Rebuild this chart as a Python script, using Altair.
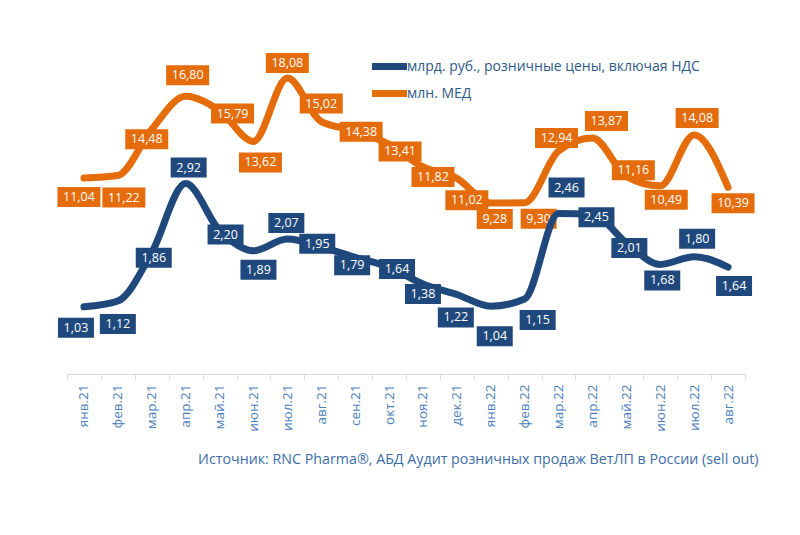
import altair as alt
import pandas as pd

# ---- data ----
months = ["янв.21", "фев.21", "мар.21", "апр.21", "май.21", "июн.21", "июл.21",
          "авг.21", "сен.21", "окт.21", "ноя.21", "дек.21", "янв.22", "фев.22",
          "мар.22", "апр.22", "май.22", "июн.22", "июл.22", "авг.22"]
rub_bn = [1.03, 1.12, 1.86, 2.92, 2.20, 1.89, 2.07, 1.95, 1.79, 1.64,
          1.38, 1.22, 1.04, 1.15, 2.46, 2.45, 2.01, 1.68, 1.80, 1.64]
med_mn = [11.04, 11.22, 14.48, 16.80, 15.79, 13.62, 18.08, 15.02, 14.38, 13.41,
          11.82, 11.02, 9.28, 9.30, 12.94, 13.87, 11.16, 10.49, 14.08, 10.39]
series_names = ["млрд. руб., розничные цены, включая НДС", "млн. МЕД"]
source_text = "Источник: RNC Pharma®, АБД Аудит розничных продаж ВетЛП в России (sell out)"

# ---- label placement nudges (px, relative to the data point) ----
rub_label_nudge = [(-8, 21), (0, 23), (2, 5), (3, -16), (6, 4), (5, 19), (-1, -16),
                   (-4, -3), (-3, 8), (8, 2), (0, 10), (-1, 23), (4, 30), (13, 21),
                   (8, -26), (4, 3), (3, 5), (2, 16), (3, -18), (6, 19)]
med_label_nudge = [(-5, 19), (6, 22), (-5, 10), (2, -21), (13, 3), (7, 21), (0, -15),
                   (0, -18), (6, 1), (11, 7), (10, 10), (10, 22), (4, 16), (14, 16),
                   (-2, -13), (14, -17), (7, -6), (6, 14), (3, -17), (5, 16)]

BLUE = "#1F497D"
ORANGE = "#E46C0A"
FONT = "Open Sans"
W, H = 678, 326
HALF_BAND = W / len(months) / 2


def series_layer(values, nudges, color, name, domain):
    px_per_unit = H / (domain[1] - domain[0])
    df = pd.DataFrame({
        "month": months,
        "v": values,
        "series": name,
        "label": [f"{v:.2f}".replace(".", ",") for v in values],
        "dx": [n[0] + HALF_BAND for n in nudges],
        "dy": [n[1] for n in nudges],
    })
    df["lv"] = df["v"] - df["dy"] / px_per_unit
    df["w"] = df["label"].str.len() * 7 + 8
    df["sz"] = df["w"] ** 2
    df["shp"] = df["w"].map(lambda w: f"M-1,{-20 / w:.4f}H1V{20 / w:.4f}H-1Z")

    x = alt.X("month:N", sort=months,
              scale=alt.Scale(type="band", paddingInner=0, paddingOuter=0),
              axis=alt.Axis(title=None, labelAngle=270, tickBand="extent",
                            labelColor="#4A7EBB", labelFont=FONT, labelFontSize=13.5,
                            domainColor="#D9D9D9", tickColor="#D9D9D9", tickSize=5,
                            labelPadding=5, domainWidth=1))
    yscale = alt.Scale(domain=domain, nice=False, zero=False)
    y = alt.Y("v:Q", scale=yscale, axis=None)
    ly = alt.Y("lv:Q", scale=yscale, axis=None)
    base = alt.Chart(df)
    line = base.mark_line(interpolate="monotone", strokeWidth=7, strokeCap="round").encode(
        x=x, y=y,
        color=alt.Color("series:N",
                        scale=alt.Scale(domain=series_names, range=[BLUE, ORANGE]),
                        legend=alt.Legend(title=None, orient="none", legendX=310, legendY=6,
                                          symbolType="M-2,0H2", symbolSize=306,
                                          symbolStrokeWidth=7, labelOffset=5,
                                          labelFont=FONT, labelFontSize=14,
                                          labelColor="#2E5A88", rowPadding=-8,
                                          labelLimit=500)),
    )
    boxes = base.mark_point(filled=True, fill=color, opacity=1, strokeWidth=0).encode(
        x=x, y=ly,
        xOffset=alt.XOffset("dx:Q", scale=None),
        shape=alt.Shape("shp:N", scale=None),
        size=alt.Size("sz:Q", scale=None),
    )
    texts = base.mark_text(color="white", font=FONT, fontSize=12.5, baseline="middle").encode(
        x=x, y=ly,
        xOffset=alt.XOffset("dx:Q", scale=None),
        text="label:N",
    )
    return alt.layer(line, boxes, texts)


blue_layer = series_layer(rub_bn, rub_label_nudge, BLUE, series_names[0], [0, 5])
orange_layer = series_layer(med_mn, med_label_nudge, ORANGE, series_names[1], [-2.76, 20.2])

chart = alt.layer(orange_layer, blue_layer).resolve_scale(y="independent").properties(
    width=W, height=H,
    padding={"left": 49, "top": 40, "right": 5, "bottom": 5},
    title=alt.TitleParams(source_text, orient="bottom", anchor="end", font=FONT,
                          fontSize=14.25, fontWeight="normal", color="#3C6DA6",
                          offset=22, dx=4),
).configure_view(stroke=None)

chart.save("out.html", embed_options={"renderer": "svg", "actions": False})
